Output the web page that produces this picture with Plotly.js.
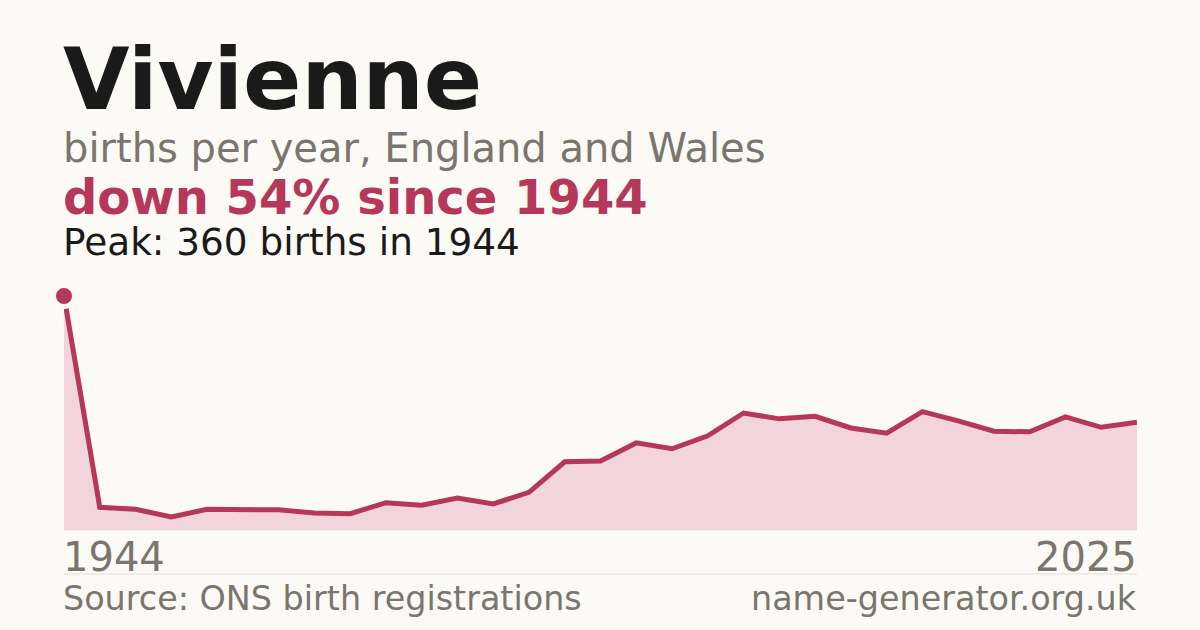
<!DOCTYPE html>
<html>
<head>
<meta charset="utf-8">
<script src="https://cdn.plot.ly/plotly-3.0.1.min.js"></script>
<style>
  html, body { margin: 0; padding: 0; background: #fbfaf5; }
  #chart { width: 1200px; height: 630px; }
</style>
</head>
<body>
<div id="chart"></div>
<script>
// births per year, first point is the 1944 peak then the yearly series
const years = [1944, 1996, 1997, 1998, 1999, 2000, 2001, 2002, 2003, 2004,
    2005, 2006, 2007, 2008, 2009, 2010, 2011, 2012, 2013, 2014,
    2015, 2016, 2017, 2018, 2019, 2020, 2021, 2022, 2023, 2024, 2025];
const births = [360, 35, 32, 20, 32, 31, 31, 26, 25, 42,
    38, 49, 40, 58, 105, 106, 134, 125, 145, 180,
    171, 175, 157, 149, 182, 168, 152, 151, 174, 158, 166];
const axisLabels = ['1944', '2025'];

const red = '#b5375a';
const grey = '#7a756d';
const bg = '#fbfaf5';
const font = 'DejaVu Sans, sans-serif';

const xs = years.map(String);

const traces = [
    {
        x: xs,
        y: births,
        type: 'scatter',
        mode: 'lines',
        fill: 'tozeroy',
        fillcolor: '#f2d5dc',
        line: { color: red, width: 5, shape: 'linear' },
        hoverinfo: 'skip'
    },
    {
        // peak marker
        x: [xs[0]],
        y: [births[0]],
        type: 'scatter',
        mode: 'markers',
        cliponaxis: false,
        marker: { size: 21, color: red, line: { color: bg, width: 5 } },
        hoverinfo: 'skip'
    }
];

function note(text, x, y, size, color, bold, anchor) {
    anchor = anchor || 'left';
    return {
        text: bold ? '<b>' + text + '</b>' : text,
        xref: 'paper', yref: 'paper',
        x: x, y: y,
        xanchor: anchor, yanchor: 'middle',
        xshift: anchor === 'left' ? -3 : 2,
        showarrow: false,
        font: { family: font, size: size, color: color }
    };
}

const layout = {
    width: 1200,
    height: 630,
    paper_bgcolor: bg,
    plot_bgcolor: bg,
    showlegend: false,
    margin: { l: 64, r: 63, t: 270, b: 100 },
    xaxis: {
        type: 'category',
        range: [0, years.length - 1],
        showgrid: false, zeroline: false, showticklabels: false, showline: false,
        fixedrange: true
    },
    yaxis: {
        range: [0, 400],
        showgrid: false, zeroline: false, showticklabels: false, showline: false,
        fixedrange: true
    },
    shapes: [
        { type: 'line', xref: 'paper', yref: 'paper', x0: 0, x1: 1, y0: 0, y1: 0,
          line: { color: '#e2dfd7', width: 1 } },
        { type: 'line', xref: 'paper', yref: 'paper', x0: 0, x1: 1, y0: -0.169, y1: -0.169,
          line: { color: '#e2dfd7', width: 1 } }
    ],
    annotations: [
        note('Vivienne', 0, 1.733, 86, '#1a1a1a', true),
        note('births per year, England and Wales', 0, 1.468, 40, grey, false),
        note('down 54% since 1944', 0, 1.282, 48, red, true),
        note('Peak: 360 births in 1944', 0, 1.108, 37.4, '#1a1a1a', false),
        note(axisLabels[0], 0, -0.102, 40, grey, false, 'left'),
        note(axisLabels[1], 1, -0.102, 40, grey, false, 'right'),
        note('Source: ONS birth registrations', 0, -0.262, 33.4, grey, false, 'left'),
        note('name-generator.org.uk', 1, -0.262, 33.4, grey, false, 'right')
    ]
};

Plotly.newPlot('chart', traces, layout, { staticPlot: true, displayModeBar: false });
</script>
</body>
</html>
